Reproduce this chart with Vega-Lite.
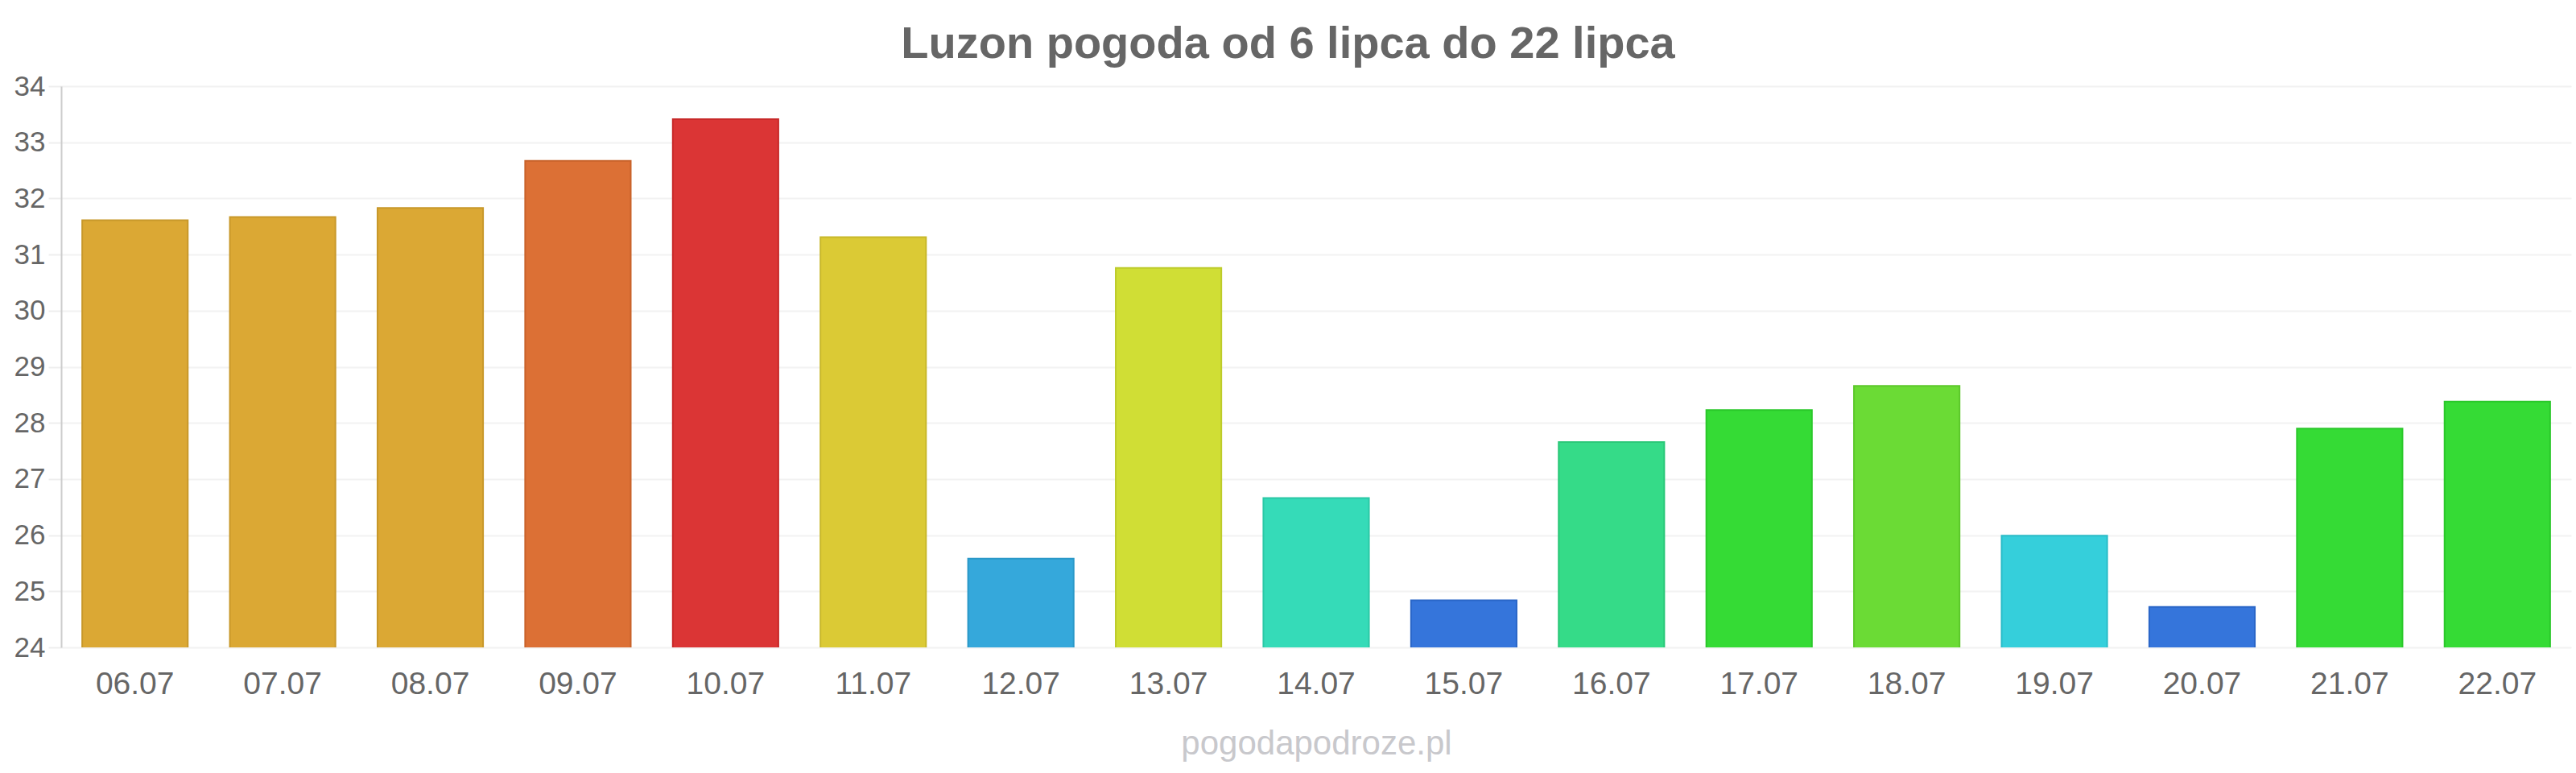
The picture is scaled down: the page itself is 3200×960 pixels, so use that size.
{
  "$schema": "https://vega.github.io/schema/vega-lite/v6.json",
  "autosize": {"type": "none"},
  "padding": {"left": 76, "top": 107, "right": 6, "bottom": 156},
  "width": 3118,
  "height": 697,
  "background": "white",
  "title": {
    "text": "Luzon pogoda od 6 lipca do 22 lipca",
    "font": "Liberation Sans",
    "fontSize": 56,
    "fontWeight": "bold",
    "color": "#666666",
    "anchor": "middle",
    "dx": -35,
    "offset": 6
  },
  "config": {
    "view": {"stroke": null},
    "font": "Liberation Sans"
  },
  "data": {
    "values": [
      {"date": "06.07", "temp": 31.61},
      {"date": "07.07", "temp": 31.67},
      {"date": "08.07", "temp": 31.83},
      {"date": "09.07", "temp": 32.67},
      {"date": "10.07", "temp": 33.41},
      {"date": "11.07", "temp": 31.31},
      {"date": "12.07", "temp": 25.58},
      {"date": "13.07", "temp": 30.76},
      {"date": "14.07", "temp": 26.66},
      {"date": "15.07", "temp": 24.84},
      {"date": "16.07", "temp": 27.66},
      {"date": "17.07", "temp": 28.23},
      {"date": "18.07", "temp": 28.66},
      {"date": "19.07", "temp": 25.99},
      {"date": "20.07", "temp": 24.72},
      {"date": "21.07", "temp": 27.9},
      {"date": "22.07", "temp": 28.38}
    ]
  },
  "mark": {"type": "bar", "strokeWidth": 2, "clip": true},
  "encoding": {
    "x": {
      "field": "date",
      "type": "ordinal",
      "sort": null,
      "scale": {"paddingInner": 0.285, "paddingOuter": 0.1425},
      "axis": {
        "title": "pogodapodroze.pl",
        "titleFont": "Liberation Sans",
        "titleFontSize": 42,
        "titleFontWeight": "normal",
        "titleColor": "#c8c8cc",
        "titlePadding": 34,
        "labelAngle": 0,
        "labelFontSize": 39,
        "labelColor": "#666666",
        "labelPadding": 26,
        "domain": false,
        "ticks": false,
        "grid": false
      }
    },
    "y": {
      "field": "temp",
      "type": "quantitative",
      "scale": {"domain": [24, 34], "nice": false, "zero": false},
      "axis": {
        "title": null,
        "values": [24, 25, 26, 27, 28, 29, 30, 31, 32, 33, 34],
        "labelFontSize": 35,
        "labelColor": "#666666",
        "labelPadding": 4,
        "tickSize": 16,
        "tickColor": "#eeeeee",
        "tickWidth": 2,
        "domainColor": "#cccccc",
        "domainWidth": 2,
        "gridColor": "#f2f2f2",
        "gridWidth": 2
      }
    },
    "fill": {
      "field": "date",
      "type": "nominal",
      "legend": null,
      "scale": {
        "domain": ["06.07","07.07","08.07","09.07","10.07","11.07","12.07","13.07","14.07","15.07","16.07","17.07","18.07","19.07","20.07","21.07","22.07"],
        "range": ["#dba834","#dba834","#dba834","#dc7035","#db3535","#dbca35","#35a8db","#d0de35","#35dbb8","#3575db","#35db88","#35db35","#6bdb35","#35cfdb","#3575db","#35db35","#35db35"]
      }
    },
    "stroke": {
      "field": "date",
      "type": "nominal",
      "legend": null,
      "scale": {
        "domain": ["06.07","07.07","08.07","09.07","10.07","11.07","12.07","13.07","14.07","15.07","16.07","17.07","18.07","19.07","20.07","21.07","22.07"],
        "range": ["#c8982a","#c8982a","#c8982a","#c8622a","#c82a2a","#c8b82a","#2a98c8","#bdcb2a","#2ac8a6","#2a66c8","#2ac878","#2ac82a","#5cc82a","#2abcc8","#2a66c8","#2ac82a","#2ac82a"]
      }
    }
  }
}
